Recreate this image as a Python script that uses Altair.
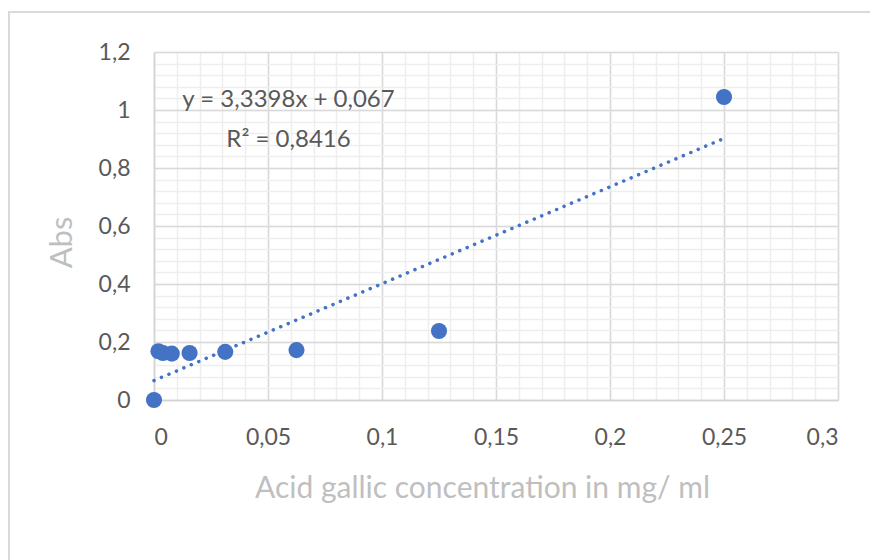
import altair as alt
import pandas as pd

# ---- data ----
conc = [0, 0.00195, 0.0039, 0.0078, 0.0156, 0.03125, 0.0625, 0.125, 0.25]
absorb = [0.0, 0.168, 0.162, 0.160, 0.162, 0.166, 0.172, 0.238, 1.045]
slope = 3.3398
intercept = 0.067
trend_x = [0, 0.25]
eq_text = ["y = 3,3398x + 0,067", "R² = 0,8416"]
eq_x = [0.059, 0.059]
eq_y = [1.035, 0.895]
x_ticks = [0, 0.05, 0.1, 0.15, 0.2, 0.25, 0.3]
y_ticks = [0, 0.2, 0.4, 0.6, 0.8, 1.0, 1.2]
x_minor = [round(i * 0.01, 2) for i in range(31)]
y_minor = [round(i * 0.04, 2) for i in range(31)]

pts = pd.DataFrame({"x": conc, "y": absorb})
trend = pd.DataFrame({"x": trend_x, "y": [slope * v + intercept for v in trend_x]})
eq = pd.DataFrame({"x": eq_x, "y": eq_y, "t": eq_text})

FONT = "Lato"
LBL = "replace(format(datum.value, '.5~f'), '.', ',')"

xs = alt.Scale(domain=[0, 0.3], nice=False, zero=False)
ys = alt.Scale(domain=[0, 1.2], nice=False, zero=False)

minor = alt.Chart(pts).mark_point(opacity=0).encode(
    x=alt.X("x:Q", scale=xs, axis=alt.Axis(orient="bottom", values=x_minor, labels=False, ticks=False,
                                           domain=False, title=None, grid=True, gridColor="#eeeeee", gridWidth=1.5)),
    y=alt.Y("y:Q", scale=ys, axis=alt.Axis(orient="left", values=y_minor, labels=False, ticks=False,
                                           domain=False, title=None, grid=True, gridColor="#eeeeee", gridWidth=1.5)),
)

points = alt.Chart(pts).mark_point(filled=True, size=260, color="#4472C4", opacity=1, shape="circle").encode(
    x=alt.X("x:Q", scale=xs, axis=alt.Axis(orient="bottom", values=x_ticks, labelExpr=LBL, ticks=False,
                                           domain=True, domainColor="#d4d4d4", domainWidth=1.5,
                                           grid=True, gridColor="#d9d9d9", gridWidth=1.5,
                                           labelFont=FONT, labelFontSize=23, labelColor="#595959", labelPadding=26,
                                           title="Acid gallic concentration in mg/ ml", titleFont=FONT,
                                           titleFontSize=30, titleFontWeight="normal", titleColor="#bfbfbf",
                                           titlePadding=24, titleX=328)),
    y=alt.Y("y:Q", scale=ys, axis=alt.Axis(orient="left", values=y_ticks, labelExpr=LBL, ticks=False,
                                           domain=True, domainColor="#d4d4d4", domainWidth=1.5,
                                           grid=True, gridColor="#d9d9d9", gridWidth=1.5,
                                           labelFont=FONT, labelFontSize=23, labelColor="#595959", labelPadding=24,
                                           title="Abs", titleFont=FONT, titleFontSize=31,
                                           titleFontWeight="normal", titleColor="#bfbfbf", titlePadding=20,
                                           titleY=190)),
)

line = alt.Chart(trend).mark_line(color="#4472C4", strokeWidth=3.5, strokeDash=[0.1, 8], strokeCap="round").encode(
    x=alt.X("x:Q", scale=xs, axis=None), y=alt.Y("y:Q", scale=ys, axis=None)
)

text = alt.Chart(eq).mark_text(font=FONT, fontSize=24, color="#595959", align="center", baseline="middle").encode(
    x=alt.X("x:Q", scale=xs, axis=None), y=alt.Y("y:Q", scale=ys, axis=None), text="t:N"
)

border = alt.Chart(pd.DataFrame({"a": [0]})).mark_rect(filled=False, stroke="#d9d9d9", strokeWidth=2).encode(
    x=alt.value(-145), x2=alt.value(740), y=alt.value(-40), y2=alt.value(530)
)

chart = alt.layer(minor, border, line, points, text).resolve_axis(
    x="independent", y="independent"
).properties(
    width=684, height=348,
    autosize=alt.AutoSizeParams(type="none"),
    padding={"left": 146, "top": 44, "right": 32, "bottom": 160},
).configure_view(stroke="#d9d9d9", strokeWidth=1.5).configure(background="white")

chart.save("out.html", embed_options={"renderer": "svg", "actions": False})
